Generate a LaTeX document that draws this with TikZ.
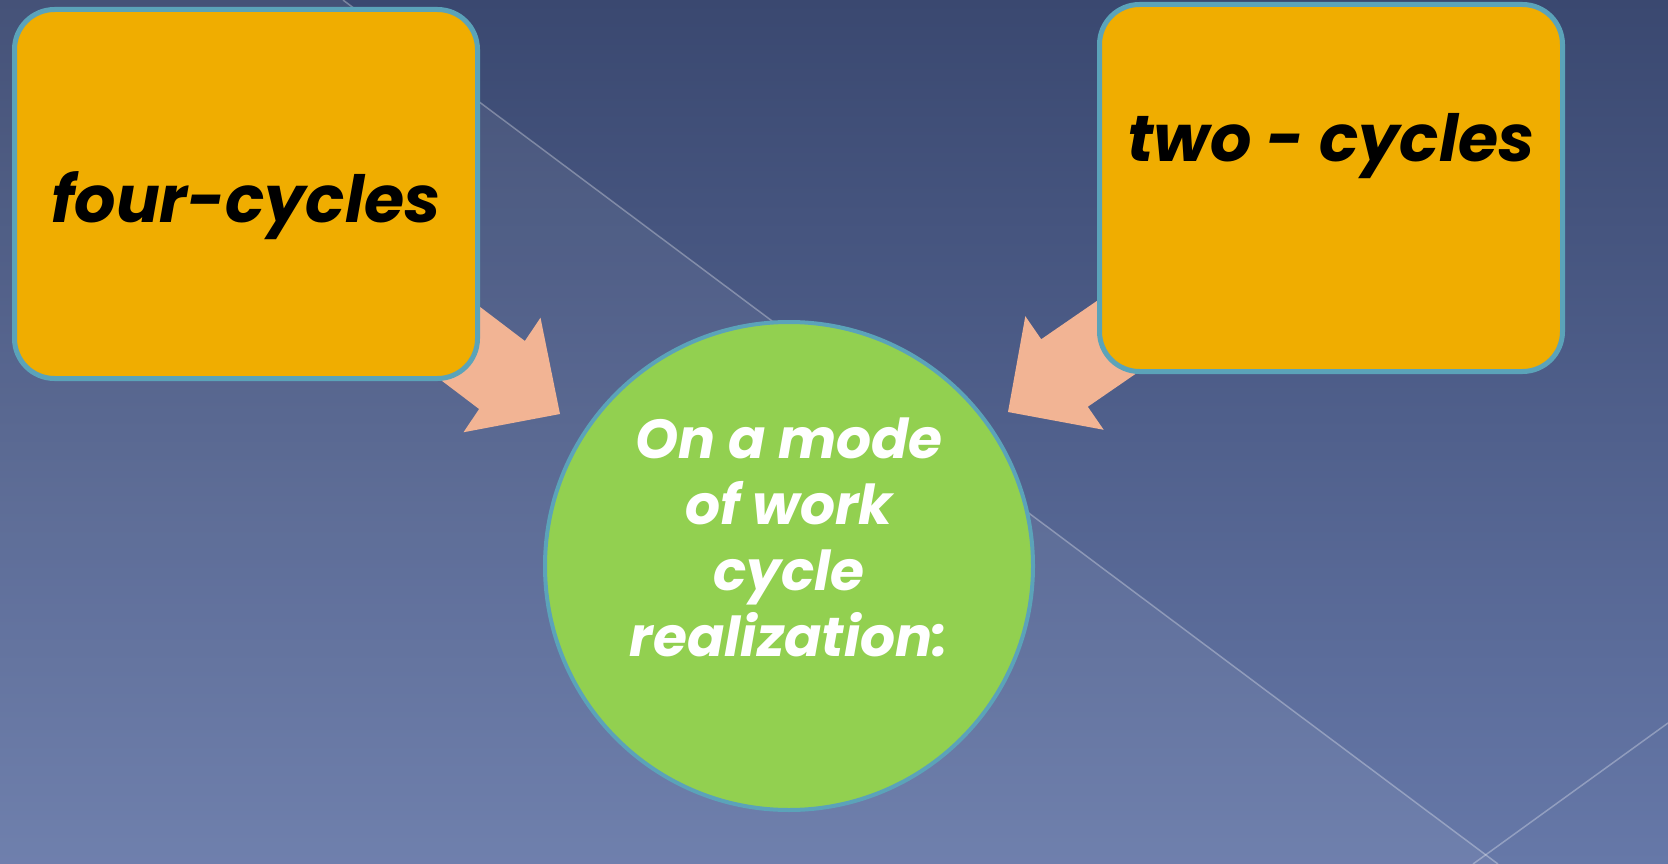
\documentclass[tikz,border=0pt]{standalone}
\usepackage{fontspec}
\setmainfont{Poppins}
\usetikzlibrary{calc}
\definecolor{bgtop}{HTML}{3A4870}
\definecolor{bgbottom}{HTML}{6678A8}
\definecolor{boxfill}{HTML}{F0AD00}
\definecolor{rimblue}{HTML}{5BA3B9}
\definecolor{modegreen}{HTML}{92D050}
\definecolor{arrowpeach}{HTML}{F2B494}
\tikzset{
  cyclebox/.style={rectangle,rounded corners=40pt,fill=boxfill,draw=rimblue,
    line width=5pt,minimum width=463pt,inner sep=0pt},
  boxtext/.style={font=\fontsize{65}{78}\selectfont\bfseries\itshape,text=black},
  modetext/.style={font=\fontsize{55}{66}\selectfont\bfseries\itshape,
    text=white,align=center},
  arrowfill/.style={fill=arrowpeach},
  band/.style={draw=white,draw opacity=0.3,line width=1.5pt}
}
% block arrow: tail, base of head, tip
\newcommand{\blockarrow}[3]{%
  \fill[arrowfill] ($(#2)!69pt!90:(#3)$) -- (#3) -- ($(#2)!69pt!-90:(#3)$)
    -- ($(#2)!41pt!-90:(#3)$) -- ($(#1)!41pt!-90:(#2)$)
    -- ($(#1)!41pt!90:(#2)$) -- ($(#2)!41pt!90:(#3)$) -- cycle;}
\begin{document}
\begin{tikzpicture}[x=1pt,y=-1pt]
	\useasboundingbox (0,0) rectangle (1668,864);
	\shade[top color=bgtop,bottom color=bgbottom] (0,0) rectangle (1668,864);
	\fill[white,opacity=0.06] (0,0) -- (343,0) -- (1498,864) -- (0,864) -- cycle;
	\draw[band] (343,0) -- (1498,864);
	\draw[band] (1668,723) -- (1473,864);
	% arrows
	\coordinate (ltail) at (390,290);
	\coordinate (lbase) at (502,375);
	\coordinate (ltip) at (560,414);
	\coordinate (rtail) at (1188,288);
	\coordinate (rbase) at (1064.5,373);
	\coordinate (rtip) at (1008,412);
	\blockarrow{ltail}{lbase}{ltip}
	\blockarrow{rtail}{rbase}{rtip}
	% boxes
	\node[cyclebox,minimum height=369pt] (four) at (246,194) {};
	\node[boxtext,anchor=base] at ([yshift=-28pt]four.center) {four-cycles};
	\node[cyclebox,minimum height=367pt] (two) at (1331,188) {};
	\node[boxtext,anchor=base] at ([yshift=-159pt]two.north) {two - cycles};
	% circle
	\node[circle,fill=modegreen,draw=rimblue,line width=4pt,minimum size=488pt] (mode) at (789,566) {};
	\node[modetext] at ([yshift=29pt]mode.center) {On a mode\\of work\\cycle\\realization:};
\end{tikzpicture}
\end{document}
